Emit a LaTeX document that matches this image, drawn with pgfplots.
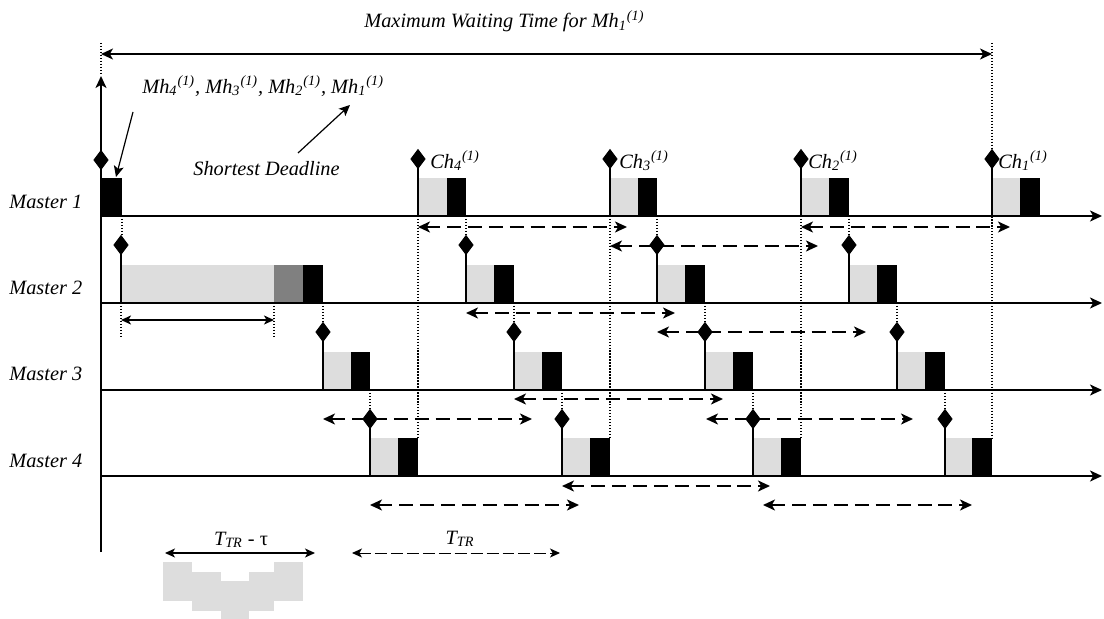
\documentclass[border=0pt]{standalone}
\usepackage{fontspec}
\setmainfont{Liberation Serif}
\usepackage{pgfplots}
\pgfplotsset{compat=1.18}
\usetikzlibrary{arrows.meta}
\definecolor{lg}{HTML}{DDDDDD}
\definecolor{dg}{HTML}{808080}
\tikzset{
  tip/.style={-{Stealth[length=6pt,width=5.5pt,inset=1.6pt]}},
  dtip/.style={{Stealth[length=6pt,width=5.5pt,inset=1.6pt]}-{Stealth[length=6pt,width=5.5pt,inset=1.6pt]}},
  stip/.style={{Stealth[length=5pt,width=4.5pt,inset=1.3pt]}-{Stealth[length=5pt,width=4.5pt,inset=1.3pt]}},
  darr/.style={line width=1pt, dash pattern=on 7pt off 3.5pt, dtip},
  base/.style={line width=1pt, tip},
  stem/.style={line width=0.8pt},
  dots/.style={line width=0.6pt, dash pattern=on 0.6pt off 0.9pt},
}
\begin{document}
\begin{tikzpicture}[font=\fontsize{10.2}{12}\selectfont\itshape]
\begin{axis}[scale only axis, width=552bp, height=309.5bp,
  xmin=0, xmax=1104, ymin=0, ymax=619, y dir=reverse,
  hide axis, clip=false]
\addplot[draw=none] coordinates {(0,0) (1104,619)};
% ---------- Master 1 frames (B=216, T=178)
\addplot[fill=black, draw=none] coordinates {(101,216) (101,178) (122,178) (122,216)};
\addplot[fill=lg, draw=none] coordinates {(418,216) (418,178) (447,178) (447,216)};
\addplot[fill=black, draw=none] coordinates {(447,216) (447,178) (466,178) (466,216)};
\addplot[fill=lg, draw=none] coordinates {(610,216) (610,178) (638,178) (638,216)};
\addplot[fill=black, draw=none] coordinates {(638,216) (638,178) (657,178) (657,216)};
\addplot[fill=lg, draw=none] coordinates {(801,216) (801,178) (829,178) (829,216)};
\addplot[fill=black, draw=none] coordinates {(829,216) (829,178) (849,178) (849,216)};
\addplot[fill=lg, draw=none] coordinates {(992,216) (992,178) (1020,178) (1020,216)};
\addplot[fill=black, draw=none] coordinates {(1020,216) (1020,178) (1040,178) (1040,216)};
% ---------- Master 2 frames (B=303, T=265)
\addplot[fill=lg, draw=none] coordinates {(121,303) (121,265) (274,265) (274,303)};
\addplot[fill=dg, draw=none] coordinates {(274,303) (274,265) (303,265) (303,303)};
\addplot[fill=black, draw=none] coordinates {(303,303) (303,265) (323,265) (323,303)};
\addplot[fill=lg, draw=none] coordinates {(466,303) (466,265) (494,265) (494,303)};
\addplot[fill=black, draw=none] coordinates {(494,303) (494,265) (514,265) (514,303)};
\addplot[fill=lg, draw=none] coordinates {(657,303) (657,265) (685,265) (685,303)};
\addplot[fill=black, draw=none] coordinates {(685,303) (685,265) (705,265) (705,303)};
\addplot[fill=lg, draw=none] coordinates {(849,303) (849,265) (877,265) (877,303)};
\addplot[fill=black, draw=none] coordinates {(877,303) (877,265) (897,265) (897,303)};
% ---------- Master 3 frames (B=390, T=352)
\addplot[fill=lg, draw=none] coordinates {(323,390) (323,352) (351,352) (351,390)};
\addplot[fill=black, draw=none] coordinates {(351,390) (351,352) (370,352) (370,390)};
\addplot[fill=lg, draw=none] coordinates {(514,390) (514,352) (542,352) (542,390)};
\addplot[fill=black, draw=none] coordinates {(542,390) (542,352) (562,352) (562,390)};
\addplot[fill=lg, draw=none] coordinates {(705,390) (705,352) (733,352) (733,390)};
\addplot[fill=black, draw=none] coordinates {(733,390) (733,352) (753,352) (753,390)};
\addplot[fill=lg, draw=none] coordinates {(897,390) (897,352) (925,352) (925,390)};
\addplot[fill=black, draw=none] coordinates {(925,390) (925,352) (945,352) (945,390)};
% ---------- Master 4 frames (B=476, T=438)
\addplot[fill=lg, draw=none] coordinates {(370,476) (370,438) (398,438) (398,476)};
\addplot[fill=black, draw=none] coordinates {(398,476) (398,438) (418,438) (418,476)};
\addplot[fill=lg, draw=none] coordinates {(562,476) (562,438) (590,438) (590,476)};
\addplot[fill=black, draw=none] coordinates {(590,476) (590,438) (610,438) (610,476)};
\addplot[fill=lg, draw=none] coordinates {(753,476) (753,438) (781,438) (781,476)};
\addplot[fill=black, draw=none] coordinates {(781,476) (781,438) (801,438) (801,476)};
\addplot[fill=lg, draw=none] coordinates {(945,476) (945,438) (972,438) (972,476)};
\addplot[fill=black, draw=none] coordinates {(972,476) (972,438) (992,438) (992,476)};
% ---------- grey legend blob
\addplot[fill=lg, draw=none] coordinates {(163,562) (163,601) (192,601) (192,562)};
\addplot[fill=lg, draw=none] coordinates {(192,572) (192,611) (221,611) (221,572)};
\addplot[fill=lg, draw=none] coordinates {(221,581) (221,619) (249,619) (249,581)};
\addplot[fill=lg, draw=none] coordinates {(249,572) (249,611) (274,611) (274,572)};
\addplot[fill=lg, draw=none] coordinates {(274,562) (274,601) (303,601) (303,562)};
% ---------- dotted guides
\addplot[dots] coordinates {(101,43) (101,74)};
\addplot[dots] coordinates {(992,43) (992,438)};
\addplot[dots] coordinates {(418,216) (418,438)};
\addplot[dots] coordinates {(610,216) (610,438)};
\addplot[dots] coordinates {(801,216) (801,438)};
\addplot[dots] coordinates {(122,216) (122,238)};
\addplot[dots] coordinates {(466,216) (466,238)};
\addplot[dots] coordinates {(657,216) (657,238)};
\addplot[dots] coordinates {(849,216) (849,238)};
\addplot[dots] coordinates {(323,303) (323,325)};
\addplot[dots] coordinates {(514,303) (514,325)};
\addplot[dots] coordinates {(705,303) (705,325)};
\addplot[dots] coordinates {(897,303) (897,325)};
\addplot[dots] coordinates {(370,390) (370,412)};
\addplot[dots] coordinates {(562,390) (562,412)};
\addplot[dots] coordinates {(753,390) (753,412)};
\addplot[dots] coordinates {(945,390) (945,412)};
\addplot[dots] coordinates {(121,303) (121,338)};
\addplot[dots] coordinates {(274,303) (274,338)};
% ---------- axes / baselines
\addplot[base] coordinates {(101,552) (101,76)};
\addplot[base] coordinates {(101,216) (1102,216)};
\addplot[base] coordinates {(101,303) (1102,303)};
\addplot[base] coordinates {(101,390) (1102,390)};
\addplot[base] coordinates {(101,476) (1102,476)};
\addplot[line width=0.9pt, dtip] coordinates {(101,54) (992,54)};
% ---------- stems
\addplot[stem] coordinates {(418,160) (418,216)};
\addplot[stem] coordinates {(610,160) (610,216)};
\addplot[stem] coordinates {(801,160) (801,216)};
\addplot[stem] coordinates {(992,160) (992,216)};
\addplot[stem] coordinates {(121,245) (121,303)};
\addplot[stem] coordinates {(466,245) (466,303)};
\addplot[stem] coordinates {(657,245) (657,303)};
\addplot[stem] coordinates {(849,245) (849,303)};
\addplot[stem] coordinates {(323,332) (323,390)};
\addplot[stem] coordinates {(514,332) (514,390)};
\addplot[stem] coordinates {(705,332) (705,390)};
\addplot[stem] coordinates {(897,332) (897,390)};
\addplot[stem] coordinates {(370,419) (370,476)};
\addplot[stem] coordinates {(562,419) (562,476)};
\addplot[stem] coordinates {(753,419) (753,476)};
\addplot[stem] coordinates {(945,419) (945,476)};
% ---------- dashed double arrows
\addplot[darr] coordinates {(418,227) (627,227)};
\addplot[darr] coordinates {(801,227) (1010,227)};
\addplot[darr] coordinates {(610,246) (818,246)};
\addplot[darr] coordinates {(466,313) (675,313)};
\addplot[darr] coordinates {(657,332) (866,332)};
\addplot[darr] coordinates {(514,399) (723,399)};
\addplot[darr] coordinates {(323,419) (532,419)};
\addplot[darr] coordinates {(706,419) (913,419)};
\addplot[darr] coordinates {(562,486) (770,486)};
\addplot[darr] coordinates {(370,505) (579,505)};
\addplot[darr] coordinates {(763,505) (972,505)};
% ---------- diamonds
\addplot[only marks, mark=diamond*, mark size=4.75pt, mark options={fill=black, draw=black}] coordinates {
 (101,160) (418,159) (610,159) (801,159) (992,159)
 (121,245) (466,245) (657,245) (849,245)
 (323,332) (514,332) (705,332) (897,332)
 (370,419) (562,419) (753,419) (945,419)};
% ---------- other arrows
\addplot[line width=0.8pt, stip] coordinates {(121,320) (274,320)};
\addplot[line width=0.7pt, stip] coordinates {(165,553) (315,553)};
\addplot[line width=0.5pt, dash pattern=on 6pt off 2pt, stip] coordinates {(352,553) (560,553)};
\addplot[line width=0.6pt, -{Stealth[length=5.5pt,width=5pt,inset=1.3pt]}] coordinates {(133,112) (116,177)};
\addplot[line width=0.6pt, -{Stealth[length=5.5pt,width=5pt,inset=1.3pt]}] coordinates {(298,153) (350,105)};
% ---------- texts
\node[anchor=base west, inner sep=0pt] at (axis cs:364,28) {Maximum Waiting Time for Mh\textsubscript{1}\textsuperscript{(1)}};
\node[anchor=base west, inner sep=0pt] at (axis cs:142,93) {Mh\textsubscript{4}\textsuperscript{(1)}, Mh\textsubscript{3}\textsuperscript{(1)}, Mh\textsubscript{2}\textsuperscript{(1)}, Mh\textsubscript{1}\textsuperscript{(1)}};
\node[anchor=base west, inner sep=0pt] at (axis cs:193,175) {Shortest Deadline};
\node[anchor=base west, inner sep=0pt] at (axis cs:9,208) {Master 1};
\node[anchor=base west, inner sep=0pt] at (axis cs:9,294) {Master 2};
\node[anchor=base west, inner sep=0pt] at (axis cs:9,380) {Master 3};
\node[anchor=base west, inner sep=0pt] at (axis cs:9,467) {Master 4};
\node[anchor=base west, inner sep=0pt] at (axis cs:430,168) {Ch\textsubscript{4}\textsuperscript{(1)}};
\node[anchor=base west, inner sep=0pt] at (axis cs:619,168) {Ch\textsubscript{3}\textsuperscript{(1)}};
\node[anchor=base west, inner sep=0pt] at (axis cs:808,168) {Ch\textsubscript{2}\textsuperscript{(1)}};
\node[anchor=base west, inner sep=0pt] at (axis cs:998,168) {Ch\textsubscript{1}\textsuperscript{(1)}};
\node[anchor=base, inner sep=0pt] at (axis cs:460,544) {T\textsubscript{TR}};
\node[anchor=base, inner sep=0pt] at (axis cs:241,545) {T\textsubscript{TR} - {\upshape τ}};
\end{axis}
\end{tikzpicture}
\end{document}
